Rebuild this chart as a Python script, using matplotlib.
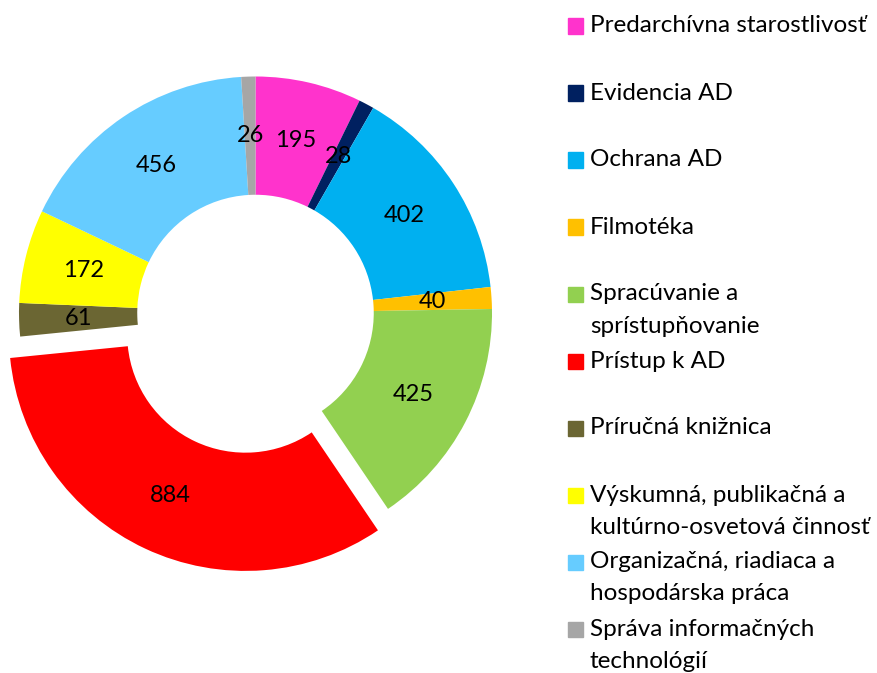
import matplotlib
matplotlib.use('Agg')
import matplotlib.pyplot as plt
from matplotlib.patches import Rectangle

plt.rcParams['font.family'] = ['Lato', 'DejaVu Sans']

labels = ['Predarchívna starostlivosť', 'Evidencia AD', 'Ochrana AD', 'Filmotéka',
          'Spracúvanie a\nsprístupňovanie', 'Prístup k AD', 'Príručná knižnica',
          'Výskumná, publikačná a\nkultúrno-osvetová činnosť',
          'Organizačná, riadiaca a\nhospodárska práca',
          'Správa informačných\ntechnológií']
values = [195, 28, 402, 40, 425, 884, 61, 172, 456, 26]
colors = ['#FF33CC', '#002060', '#00B0F0', '#FFC000', '#92D050',
          '#FF0000', '#6B6633', '#FFFF00', '#66CCFF', '#A6A6A6']
explode = [0, 0, 0, 0, 0, 0.1, 0, 0, 0, 0]

W, H = 877, 673
fig = plt.figure(figsize=(W / 100, H / 100), dpi=100)

# donut: centre (255.5, 313) px, outer radius 236.5 px
cx, cy, R = 255.5, 313, 236.5
ax = fig.add_axes([0, 0, 560 / W, 1])
ax.axis('off')

vals = iter(values)
wedges, texts, autotexts = ax.pie(values, colors=colors, explode=explode,
                                  startangle=90, counterclock=False, radius=1,
                                  wedgeprops=dict(width=0.5, linewidth=0),
                                  autopct=lambda p: str(next(vals)), pctdistance=0.75,
                                  textprops=dict(fontsize=17, color='black'))
ax.set_xlim(-cx / R, (560 - cx) / R)
ax.set_ylim(-(H - cy) / R, cy / R)

# legend
step = 67
for i, (lab, col) in enumerate(zip(labels, colors)):
    yc = 26 + i * step
    fig.patches.append(Rectangle((568 / W, 1 - (yc + 7.5) / H), 15 / W, 15 / H,
                                 transform=fig.transFigure, color=col, figure=fig))
    for k, line in enumerate(lab.split('\n')):
        fig.text(590 / W, 1 - (yc + k * 32) / H, line, fontsize=17.5,
                 va='center', ha='left')

fig.savefig('out.png', dpi=100)
